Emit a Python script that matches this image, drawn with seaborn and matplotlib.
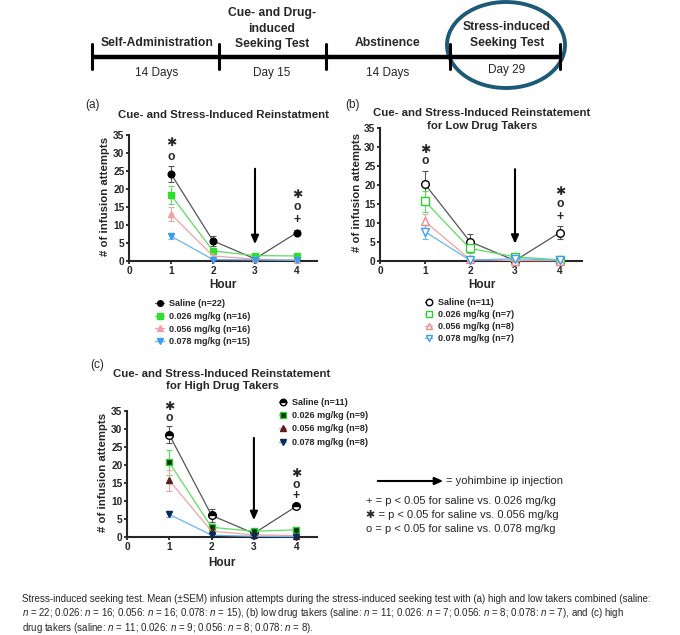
import numpy as np
import pandas as pd
import matplotlib
matplotlib.use("Agg")
import matplotlib.pyplot as plt
from matplotlib.patches import Ellipse
import seaborn as sns

# ---------------------------
# data
# ---------------------------
hours = [1, 2, 3, 4]
group_labels_a = ["Saline (n=22)", "0.026 mg/kg (n=16)", "0.056 mg/kg (n=16)", "0.078 mg/kg (n=15)"]
group_labels_b = ["Saline (n=11)", "0.026 mg/kg (n=7)", "0.056 mg/kg (n=8)", "0.078 mg/kg (n=7)"]
group_labels_c = ["Saline (n=11)", "0.026 mg/kg (n=9)", "0.056 mg/kg (n=8)", "0.078 mg/kg (n=8)"]

a_saline = [24.2, 5.6, 0.6, 7.9]
a_saline_sem = [2.2, 1.3, 0.3, 0.6]
a_026 = [18.3, 2.8, 1.5, 1.4]
a_026_sem = [2.4, 0.7, 0.4, 0.4]
a_056 = [13.0, 1.4, 0.5, 0.3]
a_056_sem = [2.0, 0.5, 0.2, 0.2]
a_078 = [6.9, 0.4, 0.3, 0.2]
a_078_sem = [0.9, 0.2, 0.2, 0.1]

b_saline = [20.2, 5.1, 0.1, 7.5]
b_saline_sem = [3.5, 2.1, 0.1, 1.6]
b_026 = [15.7, 3.3, 1.1, 0.3]
b_026_sem = [2.7, 1.2, 0.4, 0.2]
b_056 = [10.4, 0.4, 0.1, 0.1]
b_056_sem = [2.0, 0.3, 0.1, 0.1]
b_078 = [7.7, 0.2, 0.6, 0.2]
b_078_sem = [1.9, 0.2, 0.3, 0.1]

c_saline = [28.4, 6.0, 1.0, 8.5]
c_saline_sem = [2.3, 1.8, 0.4, 0.5]
c_026 = [20.7, 2.7, 1.6, 2.0]
c_026_sem = [3.6, 1.0, 0.6, 0.8]
c_056 = [15.7, 1.6, 0.6, 0.4]
c_056_sem = [2.9, 0.6, 0.3, 0.2]
c_078 = [6.3, 0.5, 0.2, 0.1]
c_078_sem = [0.8, 0.3, 0.1, 0.1]

# significance symbols: (hour, y, symbol)
sig_a = [(1, 32.7, "\u2731"), (1, 29.0, "o"), (4, 18.3, "\u2731"), (4, 14.9, "o"), (4, 11.3, "+")]
sig_b = [(1, 29.3, "\u2731"), (1, 26.2, "o"), (4, 18.2, "\u2731"), (4, 14.9, "o"), (4, 11.6, "+")]
sig_c = [(1, 36.2, "\u2731"), (1, 33.0, "o"), (4, 17.5, "\u2731"), (4, 14.5, "o"), (4, 11.3, "+")]

# yohimbine arrow (hour, from y, to y)
arrow_a = (3, 26.4, 3.9)
arrow_b = (3, 24.9, 3.8)
arrow_c = (3, 28.3, 3.9)

timeline_top = ["Self-Administration", "Cue- and Drug-\ninduced\nSeeking Test", "Abstinence",
                "Stress-induced\nSeeking Test"]
timeline_bottom = ["14 Days", "Day 15", "14 Days", "Day 29"]

caption = [
    "Stress-induced seeking test. Mean (\u00b1SEM) infusion attempts during the stress-induced seeking test with (a) high and low takers combined (saline:",
    "$n$ = 22; 0.026: $n$ = 16; 0.056: $n$ = 16; 0.078: $n$ = 15), (b) low drug takers (saline: $n$ = 11; 0.026: $n$ = 7; 0.056: $n$ = 8; 0.078: $n$ = 7), and (c) high",
    "drug takers (saline: $n$ = 11; 0.026: $n$ = 9; 0.056: $n$ = 8; 0.078: $n$ = 8).",
]

# ---------------------------
# style
# ---------------------------
sns.set_style("ticks")
plt.rcParams["font.family"] = ["Liberation Sans", "DejaVu Sans"]
plt.rcParams["mathtext.fontset"] = "custom"
plt.rcParams["mathtext.it"] = "Liberation Sans:italic"
plt.rcParams["mathtext.rm"] = "Liberation Sans"

W, H = 680, 635
fig = plt.figure(figsize=(W / 100, H / 100), dpi=100)

ov = fig.add_axes([0, 0, 1, 1])
ov.set_xlim(0, W)
ov.set_ylim(H, 0)
ov.axis("off")


def px_axes(left, top, right, bottom):
    ax = fig.add_axes([left / W, 1 - bottom / H, (right - left) / W, (bottom - top) / H])
    ax.patch.set_alpha(0)
    return ax


# ---------------------------
# timeline
# ---------------------------
tick_x = [92, 219, 326, 450, 560]
ov.plot([tick_x[0], tick_x[-1]], [57, 57], color="black", lw=3.2, solid_capstyle="butt")
for tx in tick_x:
    ov.plot([tx, tx], [44, 69], color="black", lw=2.2)
top_x = [157, 272, 388, 507]
top_y = [43, 28.5, 43, 35]
for tx, ty, lab in zip(top_x, top_y, timeline_top):
    ov.text(tx, ty, lab, ha="center", va="center", fontsize=8.7, fontweight="bold", linespacing=1.35)
for tx, lab in zip(top_x, timeline_bottom):
    ov.text(tx, 73 if lab != "Day 29" else 70, lab, ha="center", va="center", fontsize=8.5)
ov.add_patch(Ellipse((506, 45), 118, 86, fill=False, edgecolor="#1d5a78", lw=2.8))

# ---------------------------
# panels
# ---------------------------
line_cols = ["#555555", "#5fdc5f", "#f2a3a3", "#6ab4f5"]


def draw_panel(ax, series, sems, labels, styles, sig, arrow, xmax):
    for vals, err, lab, st, lc in zip(series, sems, labels, styles, line_cols):
        ax.errorbar(hours, vals, yerr=err, fmt="none", ecolor=lc, elinewidth=0.8,
                    capsize=2, capthick=0.8, clip_on=False, zorder=2)
        sns.lineplot(x=hours, y=vals, ax=ax, color=lc, lw=0.9, label=lab, clip_on=False, zorder=3,
                     **st)
    for hx, hy, s in sig:
        ax.text(hx, hy, s, ha="center", va="center", fontsize=8.8, fontweight="bold",
                family=["Liberation Sans", "DejaVu Sans"], clip_on=False)
    ax.annotate("", xy=(arrow[0], arrow[2]), xytext=(arrow[0], arrow[1]),
                arrowprops=dict(arrowstyle="-|>,head_length=0.5,head_width=0.22", color="black", lw=1.5))
    ax.set_xlim(0, xmax)
    ax.set_ylim(0, 35)
    ax.set_xticks([0, 1, 2, 3, 4])
    ax.set_yticks(np.arange(0, 36, 5))
    for sp in ["left", "bottom"]:
        ax.spines[sp].set_linewidth(1.5)
    sns.despine(ax=ax)
    ax.tick_params(length=2.5, width=1.3, labelsize=7.3, pad=0.8)
    for t in ax.get_xticklabels() + ax.get_yticklabels():
        t.set_fontweight("bold")
    ax.set_xlabel("")
    ax.set_ylabel("")


def set_labels(rect, ylab_x, hour_y, title_lines, title_y, title_x):
    left, top, right, bottom = rect
    ov.text(ylab_x, (top + bottom) / 2 - 2, "# of infusion attempts", rotation=90, ha="center", va="center",
            fontsize=8.2, fontweight="bold")
    ov.text(title_x, hour_y, "Hour", ha="center", va="center", fontsize=8.5, fontweight="bold")
    for ty, tl in zip(title_y, title_lines):
        ov.text(title_x, ty, tl, ha="center", va="center", fontsize=8.2, fontweight="bold")


def m(marker, ms, fc, ec, **extra):
    d = dict(marker=marker, markersize=ms, markerfacecolor=fc, markeredgecolor=ec, markeredgewidth=1.0)
    d.update(extra)
    return d


def add_legend(ax, x, y, spacing, hl):
    ax.legend(loc="upper left", bbox_to_anchor=(x / W, 1 - y / H), bbox_transform=fig.transFigure,
              frameon=False, prop={"weight": "bold", "size": 6.5}, handlelength=hl,
              handletextpad=0.6, borderpad=0, borderaxespad=0, labelspacing=spacing, markerscale=0.85)


# (a)
rect_a = (129, 135, 317, 261)
ax_a = px_axes(*rect_a)
styles_a = [m("o", 4.8, "black", "black"), m("s", 4.8, "#2ee02e", "#2ee02e"),
            m("^", 4.8, "#f5a0a0", "#f5a0a0"), m("v", 4.8, "#3a9cf5", "#3a9cf5")]
draw_panel(ax_a, [a_saline, a_026, a_056, a_078], [a_saline_sem, a_026_sem, a_056_sem, a_078_sem],
           group_labels_a, styles_a, sig_a, arrow_a, (317 - 129) / 42)
set_labels(rect_a, 105, 285, ["Cue- and Stress-Induced Reinstatment"], [115], 223)
add_legend(ax_a, 155, 299, 0.42, 1.0)

# (b)
rect_b = (380, 128, 582, 261)
ax_b = px_axes(*rect_b)
styles_b = [m("o", 5.5, "white", "black"), m("s", 5.5, "white", "#33cc33"),
            m("^", 5.5, "white", "#f08a8a"), m("v", 5.5, "white", "#3a9cf5")]
draw_panel(ax_b, [b_saline, b_026, b_056, b_078], [b_saline_sem, b_026_sem, b_056_sem, b_078_sem],
           group_labels_b, styles_b, sig_b, arrow_b, (582 - 380) / 45)
set_labels(rect_b, 357, 285, ["Cue- and Stress-Induced Reinstatement", "for Low Drug Takers"],
           [113, 126], 482)
add_legend(ax_b, 425, 298, 0.35, 0.8)

# (c)
rect_c = (127, 411, 317, 537)
ax_c = px_axes(*rect_c)
styles_c = [m("o", 5.5, "black", "black", fillstyle="top", markerfacecoloralt="white"),
            m("s", 5.0, "#0b2e0b", "#2ecc2e"),
            m("^", 5.0, "#5a1f1f", "#5a1f1f"), m("v", 5.0, "#0b2a5c", "#0b2a5c")]
draw_panel(ax_c, [c_saline, c_026, c_056, c_078], [c_saline_sem, c_026_sem, c_056_sem, c_078_sem],
           group_labels_c, styles_c, sig_c, arrow_c, (317 - 127) / 42.3)
set_labels(rect_c, 103, 563, ["Cue- and Stress-Induced Reinstatement", "for High Drug Takers"],
           [374, 386], 222)
add_legend(ax_c, 279, 398, 0.47, 0.8)

# ---------------------------
# key
# ---------------------------
ov.annotate("", xy=(446, 481), xytext=(375, 481),
            arrowprops=dict(arrowstyle="-|>,head_length=0.5,head_width=0.22", color="black", lw=1.5))
ov.text(446, 481, "= yohimbine ip injection", ha="left", va="center", fontsize=8.0)
key_lines = ["+ = p < 0.05 for saline vs. 0.026 mg/kg",
             "\u2731 = p < 0.05 for saline vs. 0.056 mg/kg",
             "o = p < 0.05 for saline vs. 0.078 mg/kg"]
for ky, kl in zip([501, 515, 529], key_lines):
    ov.text(366, ky, kl, ha="left", va="center", fontsize=8.0, family=["Liberation Sans", "DejaVu Sans"])

# caption (one text block)
ov.text(22, 594, "\n".join(caption), ha="left", va="top", fontsize=7.0, linespacing=1.15)

# panel letters
for lx, ly, lt in [(93, 105, "(a)"), (352, 105, "(b)"), (97, 365, "(c)")]:
    ov.text(lx, ly, lt, ha="center", va="center", fontsize=8.5)

plt.savefig("out.png", dpi=100)
